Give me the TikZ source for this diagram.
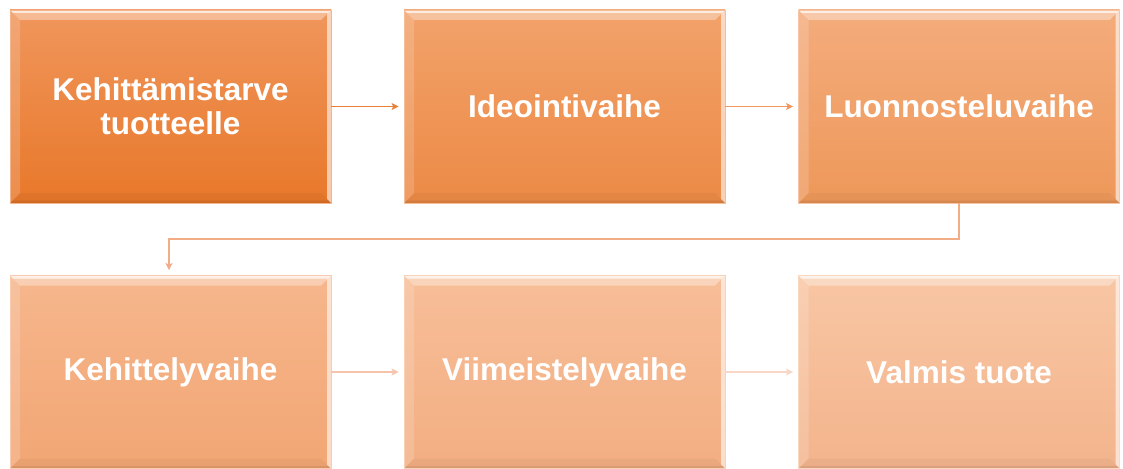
\documentclass[tikz,border=0pt]{standalone}
\usepackage{fontspec}
\setmainfont{Liberation Sans}
\usetikzlibrary{arrows.meta}

\definecolor{c1t}{HTML}{F0965C}\definecolor{c1b}{HTML}{E8782A}
\definecolor{c2t}{HTML}{F2A26A}\definecolor{c2b}{HTML}{EC8A46}
\definecolor{c3t}{HTML}{F4AC7C}\definecolor{c3b}{HTML}{EE985A}
\definecolor{c4t}{HTML}{F6B68C}\definecolor{c4b}{HTML}{F2A674}
\definecolor{c5t}{HTML}{F7BE98}\definecolor{c5b}{HTML}{F3AE82}
\definecolor{c6t}{HTML}{F8C6A4}\definecolor{c6b}{HTML}{F3B48C}
\definecolor{a1}{HTML}{E8803C}
\definecolor{a2}{HTML}{EE9860}
\definecolor{a3}{HTML}{F2AC86}
\definecolor{a4}{HTML}{F6C4AC}
\definecolor{a5}{HTML}{F9D6C6}

\tikzset{
  stepbox/.style 2 args={
    rectangle, minimum width=321pt, minimum height=193pt, inner sep=0pt,
    top color=#1, bottom color=#2, draw=#1!70!white, line width=0.8pt,
    text=white, align=center,
    font=\bfseries\fontsize{31.5}{34}\selectfont,
    path picture={
      \coordinate (nw) at (path picture bounding box.north west);
      \coordinate (ne) at (path picture bounding box.north east);
      \coordinate (sw) at (path picture bounding box.south west);
      \coordinate (se) at (path picture bounding box.south east);
      % bevel: light top, soft left, bright thin right, faint dark bottom
      \fill[white, opacity=0.35] (nw) -- (ne) -- ([xshift=-10pt,yshift=-10pt]ne) -- ([xshift=10pt,yshift=-10pt]nw) -- cycle;
      \fill[white, opacity=0.7] (nw) -- (ne) -- ([xshift=-3pt,yshift=-3pt]ne) -- ([xshift=3pt,yshift=-3pt]nw) -- cycle;
      \fill[white, opacity=0.16] (nw) -- ([xshift=10pt,yshift=-10pt]nw) -- ([xshift=10pt,yshift=10pt]sw) -- (sw) -- cycle;
      \fill[white, opacity=0.6] (ne) -- ([xshift=-4pt,yshift=-4pt]ne) -- ([xshift=-4pt,yshift=4pt]se) -- (se) -- cycle;
      \fill[black, opacity=0.035] (sw) -- ([xshift=10pt,yshift=10pt]sw) -- ([xshift=-10pt,yshift=10pt]se) -- (se) -- cycle;
      \fill[black, opacity=0.07] (sw) -- ([xshift=2.5pt,yshift=2.5pt]sw) -- ([xshift=-2.5pt,yshift=2.5pt]se) -- (se) -- cycle;
    }
  },
  flow/.style={draw=#1, line width=1.4pt, shorten >=5pt,
    -{Stealth[length=7pt, width=7pt, inset=1.5pt]}}
}

\begin{document}
\begin{tikzpicture}[x=1pt, y=-1pt]
  \fill[white] (0,0) rectangle (1123,468);
  \useasboundingbox (0,0) rectangle (1123,468);

  % upper row
  \node[stepbox={c1t}{c1b}] (s1) at (170.5,106.5) {Kehittämistarve\\tuotteelle};
  \node[stepbox={c2t}{c2b}] (s2) at (564.5,106.5) {Ideointivaihe};
  \node[stepbox={c3t}{c3b}] (s3) at (959,106.5) {Luonnosteluvaihe};

  % lower row
  \node[stepbox={c4t}{c4b}] (s4) at (170.5,372) {Kehittelyvaihe};
  \node[stepbox={c5t}{c5b}] (s5) at (564.5,372) {Viimeistelyvaihe};
  \node[stepbox={c6t}{c6b}] (s6) at (959,372) {Valmis tuote};

  % connectors
  \draw[flow=a1] (s1.east) -- (s2.west);
  \draw[flow=a2] (s2.east) -- (s3.west);
  \coordinate (turn) at (560,239);
  \draw[flow=a3] (s3.south) |- (turn) -| ([xshift=-1.5pt]s4.north);
  \draw[flow=a4] (s4.east) -- (s5.west);
  \draw[flow=a5] (s5.east) -- (s6.west);
\end{tikzpicture}
\end{document}
